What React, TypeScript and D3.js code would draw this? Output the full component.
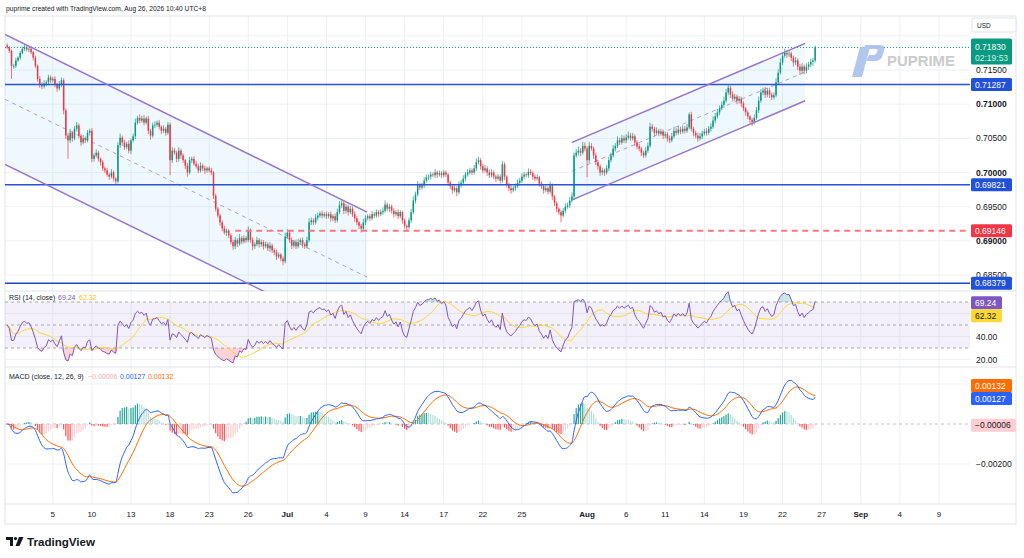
import React from "react";
import * as d3 from "d3";

// 4H candles, AUD/USD style quote, prices in pips (x 1e-4).
// One row per trading day, first row starts Mon Jun 1 (13:00), last row is Aug 26.
const closeRows: number[][] = [
  [7183, 7178, 7156],
  [7156, 7164, 7168, 7175, 7181, 7183],
  [7180, 7181, 7176, 7168, 7156, 7137],
  [7129, 7126, 7130, 7132, 7139, 7135],
  [7137, 7129, 7123, 7129, 7135, 7091],
  [7054, 7047, 7058, 7050, 7064, 7069],
  [7054, 7044, 7050, 7047, 7058, 7061],
  [7020, 7025, 7029, 7020, 7015, 7006],
  [7003, 6997, 6994, 7000, 6991, 6987],
  [7040, 7051, 7044, 7037, 7042, 7032],
  [7047, 7053, 7073, 7080, 7076, 7079],
  [7073, 7079, 7061, 7054, 7069, 7070],
  [7073, 7067, 7061, 7064, 7058, 7070],
  [7018, 7032, 7029, 7020, 7032, 7025],
  [7018, 7010, 7000, 7018, 7020, 7013],
  [7009, 7003, 7010, 7006, 7003, 7006],
  [7003, 7000, 6966, 6947, 6937, 6927],
  [6918, 6912, 6915, 6908, 6898, 6892],
  [6901, 6896, 6904, 6899, 6904, 6901],
  [6915, 6901, 6892, 6895, 6901, 6895],
  [6898, 6892, 6895, 6889, 6893, 6886],
  [6883, 6877, 6880, 6874, 6870, 6906],
  [6912, 6901, 6893, 6898, 6892, 6898],
  [6901, 6895, 6892, 6901, 6927, 6930],
  [6927, 6934, 6937, 6940, 6937, 6939],
  [6936, 6939, 6933, 6936, 6930, 6942],
  [6952, 6955, 6944, 6950, 6942, 6947],
  [6939, 6933, 6927, 6922, 6918, 6927],
  [6933, 6936, 6933, 6939, 6937, 6942],
  [6939, 6942, 6944, 6953, 6947, 6950],
  [6944, 6939, 6942, 6936, 6942, 6930],
  [6922, 6920, 6930, 6942, 6959, 6968],
  [6982, 6978, 6981, 6988, 6993, 6994],
  [6997, 6996, 7000, 6997, 6999, 6996],
  [7000, 6997, 6985, 6980, 6974, 6977],
  [6971, 6982, 6985, 6991, 6997, 7000],
  [7003, 7000, 7006, 7015, 7018, 7009],
  [7003, 7006, 7000, 6996, 7000, 6994],
  [6991, 6994, 6988, 7012, 6994, 6982],
  [6977, 6974, 6977, 6980, 6985, 6988],
  [6994, 6997, 6996, 7001, 6999, 6994],
  [6991, 6993, 6984, 6980, 6974, 6977],
  [6972, 6981, 6965, 6955, 6947, 6942],
  [6937, 6944, 6950, 6952, 6959, 6965],
  [7025, 7029, 7032, 7029, 7039, 7035],
  [7018, 7039, 7035, 7025, 7015, 7009],
  [7000, 7003, 7000, 7006, 7018, 7025],
  [7035, 7039, 7047, 7044, 7050, 7047],
  [7051, 7054, 7050, 7053, 7044, 7038],
  [7035, 7029, 7025, 7032, 7039, 7067],
  [7064, 7058, 7061, 7057, 7060, 7054],
  [7056, 7050, 7047, 7053, 7061, 7058],
  [7063, 7060, 7064, 7061, 7066, 7085],
  [7064, 7058, 7054, 7050, 7053, 7057],
  [7060, 7058, 7064, 7067, 7076, 7082],
  [7088, 7094, 7099, 7105, 7117, 7124],
  [7114, 7108, 7111, 7105, 7108, 7101],
  [7094, 7088, 7082, 7077, 7074, 7080],
  [7091, 7105, 7117, 7120, 7114, 7120],
  [7114, 7110, 7113, 7132, 7146, 7161],
  [7171, 7175, 7173, 7174, 7168, 7161],
  [7164, 7155, 7149, 7155, 7149, 7155],
  [7158, 7162, 7164, 7183],
];

// upper / lower wick length of each candle, pips
const wickUpRows: number[][] = [
  [3, 2, 2], [3, 4, 2, 3, 3, 4], [3, 2, 4, 2, 3, 2], [4, 3, 5, 3, 4, 3],
  [3, 4, 2, 5, 4, 3], [3, 4, 6, 3, 4, 5], [3, 2, 5, 3, 4, 3], [4, 3, 5, 3, 2, 3],
  [3, 4, 2, 5, 3, 2], [4, 6, 3, 4, 3, 5], [3, 4, 6, 3, 5, 4], [5, 3, 4, 3, 4, 5],
  [3, 4, 2, 5, 3, 4], [3, 5, 4, 3, 5, 3], [3, 2, 4, 5, 3, 4], [4, 3, 5, 3, 4, 3],
  [3, 4, 2, 3, 2, 3], [3, 4, 3, 2, 3, 4], [5, 3, 6, 3, 4, 3], [6, 3, 4, 3, 5, 3],
  [4, 3, 4, 3, 5, 3], [3, 4, 3, 2, 3, 6], [5, 3, 4, 3, 4, 5], [3, 4, 3, 5, 6, 4],
  [3, 5, 4, 3, 4, 3], [4, 3, 4, 3, 4, 5], [6, 4, 3, 4, 3, 4], [3, 4, 3, 2, 3, 5],
  [4, 3, 4, 5, 3, 4], [3, 4, 5, 6, 3, 4], [3, 4, 3, 4, 3, 2], [3, 2, 4, 5, 6, 4],
  [5, 3, 4, 5, 4, 3], [4, 3, 5, 3, 4, 3], [4, 3, 2, 3, 2, 4], [3, 5, 4, 5, 4, 5],
  [4, 3, 5, 6, 5, 3], [4, 5, 3, 4, 5, 3], [3, 4, 3, 5, 3, 2], [3, 4, 3, 4, 5, 4],
  [5, 4, 3, 5, 4, 3], [3, 4, 2, 3, 2, 4], [3, 6, 3, 2, 3, 2], [3, 4, 5, 4, 5, 6],
  [4, 5, 6, 4, 6, 5], [3, 6, 4, 3, 4, 3], [3, 4, 3, 5, 5, 4], [5, 4, 6, 4, 5, 4],
  [5, 6, 4, 5, 3, 3], [4, 3, 3, 5, 5, 6], [4, 3, 5, 3, 4, 3], [4, 3, 4, 5, 6, 4],
  [5, 4, 5, 4, 5, 3], [4, 3, 3, 4, 5, 4], [4, 5, 4, 5, 6, 5], [5, 4, 5, 6, 5, 4],
  [3, 5, 4, 3, 4, 3], [3, 2, 3, 2, 3, 5], [5, 6, 5, 4, 5, 4], [4, 3, 4, 6, 5, 6],
  [5, 6, 4, 5, 3, 3], [5, 3, 4, 5, 3, 5], [4, 5, 4, 3],
];
const wickDnRows: number[][] = [
  [2, 3, 19], [4, 3, 2, 3, 2, 3], [3, 4, 3, 4, 3, 4], [5, 4, 3, 4, 3, 4],
  [3, 4, 5, 3, 4, 6], [5, 27, 4, 5, 3, 4], [4, 5, 3, 4, 3, 4], [5, 4, 3, 4, 5, 4],
  [4, 3, 5, 3, 4, 5], [3, 4, 5, 4, 3, 4], [5, 3, 4, 3, 4, 3], [4, 3, 5, 6, 3, 4],
  [3, 4, 5, 3, 4, 3], [22, 4, 3, 5, 4, 5], [4, 5, 6, 3, 4, 3], [3, 4, 3, 4, 5, 3],
  [3, 4, 5, 4, 3, 5], [4, 3, 5, 4, 3, 5], [4, 5, 3, 4, 3, 4], [3, 4, 6, 4, 3, 5],
  [4, 5, 3, 4, 5, 4], [4, 5, 3, 4, 6, 3], [3, 4, 5, 3, 4, 3], [4, 5, 4, 3, 3, 4],
  [4, 3, 4, 3, 4, 3], [4, 3, 5, 4, 4, 3], [3, 4, 5, 4, 5, 3], [4, 5, 4, 5, 6, 3],
  [4, 3, 4, 3, 4, 3], [4, 3, 4, 3, 4, 5], [4, 5, 3, 4, 3, 5], [4, 6, 3, 4, 3, 4],
  [3, 4, 3, 4, 3, 4], [4, 3, 4, 5, 3, 4], [3, 4, 5, 4, 5, 3], [6, 3, 4, 3, 4, 3],
  [3, 4, 3, 4, 3, 5], [4, 3, 5, 4, 3, 4], [5, 3, 4, 3, 5, 4], [4, 5, 3, 4, 3, 4],
  [3, 4, 3, 4, 3, 5], [4, 3, 5, 4, 5, 3], [4, 3, 5, 4, 5, 4], [10, 3, 4, 3, 4, 3],
  [5, 3, 4, 5, 3, 4], [25, 4, 3, 5, 4, 5], [5, 4, 5, 3, 4, 3], [3, 4, 3, 4, 3, 4],
  [4, 3, 4, 3, 5, 4], [4, 5, 4, 3, 3, 3], [4, 5, 3, 4, 3, 5], [4, 5, 4, 3, 3, 4],
  [3, 4, 3, 4, 3, 3], [4, 5, 4, 5, 3, 4], [3, 4, 3, 4, 3, 4], [3, 4, 3, 4, 3, 4],
  [5, 4, 3, 5, 4, 5], [4, 5, 4, 5, 6, 4], [3, 4, 3, 4, 5, 4], [5, 4, 3, 3, 4, 3],
  [4, 3, 5, 4, 5, 6], [4, 5, 6, 4, 5, 4], [5, 4, 6, 3],
];
const firstOpen = 7186;

// time axis: trading day counted from Mon Jun 1
const timeTicks = [
  { label: "5", day: 4 }, { label: "10", day: 7 }, { label: "13", day: 10 },
  { label: "18", day: 13 }, { label: "23", day: 16 }, { label: "26", day: 19 },
  { label: "Jul", day: 22, bold: true }, { label: "4", day: 25 }, { label: "9", day: 28 },
  { label: "14", day: 31 }, { label: "17", day: 34 }, { label: "22", day: 37 },
  { label: "25", day: 40 }, { label: "Aug", day: 45, bold: true }, { label: "6", day: 48 },
  { label: "11", day: 51 }, { label: "14", day: 54 }, { label: "19", day: 57 },
  { label: "22", day: 60 }, { label: "27", day: 63 }, { label: "Sep", day: 66, bold: true },
  { label: "4", day: 69 }, { label: "9", day: 72 },
];

const priceGrid = [0.72, 0.715, 0.71, 0.705, 0.7, 0.695, 0.69, 0.685];
const priceLabels = [
  { v: 0.715, t: "0.71500" }, { v: 0.71, t: "0.71000", bold: true },
  { v: 0.705, t: "0.70500" }, { v: 0.7, t: "0.70000", bold: true },
  { v: 0.695, t: "0.69500" }, { v: 0.69, t: "0.69000", bold: true },
  { v: 0.685, t: "0.68500" },
];

const levels = [
  { price: 0.71287, text: "0.71287", color: "#2a52d8", tag: "#2150d9", from: -1, dash: false },
  { price: 0.69821, text: "0.69821", color: "#2a52d8", tag: "#2150d9", from: -1, dash: false },
  { price: 0.69146, text: "0.69146", color: "#f7787d", tag: "#f23645", from: 105, dash: true },
  { price: 0.68379, text: "0.68379", color: "#1f44c2", tag: "#2150d9", from: -1, dash: false },
];

// parallel channels: two anchors on the top edge, plus the price offset of the bottom edge
const channels = [
  { i1: -1, p1: 0.7202, i2: 165.7, p2: 0.6942, offset: -0.019 },
  { i1: 260.1, p1: 0.7044, i2: 367.4, p2: 0.7189, offset: -0.0084 },
];

const lastPrice = 0.7183;
const countdown = "02:19:53";
const rsiLegend = { rsi: 69.24, ma: 62.32 };
const macdLegend = { hist: -0.00006, macd: 0.00127, signal: 0.00132 };
const rsiGrid = [60, 40, 20];
const rsiLabels = [40, 20];
const macdGrid = [0.002, -0.002];

const FONT = "'Liberation Sans', Arial, sans-serif";
const PL = 5, PR = 970;
const MAIN = { top: 16, bottom: 291 };
const RSI = { top: 291, bottom: 367 };
const MACD = { top: 367, bottom: 504 };
const AXIS_BOTTOM = 524;

const closes = closeRows.flat().map((p) => p / 10000);
const upW = wickUpRows.flat();
const dnW = wickDnRows.flat();
const candles = closes.map((c, i) => {
  const o = i === 0 ? firstOpen / 10000 : closes[i - 1];
  return {
    i, o, c,
    h: Math.max(o, c) + (upW[i] ?? 3) / 10000,
    l: Math.min(o, c) - (dnW[i] ?? 3) / 10000,
  };
});

function rsiOf(c: number[], n: number) {
  // Wilder smoothing, started from a neutral state
  let ag = 0.0003, al = 0.0003;
  const out: number[] = [50];
  for (let i = 1; i < c.length; i++) {
    const d = c[i] - c[i - 1];
    ag = (ag * (n - 1) + Math.max(d, 0)) / n;
    al = (al * (n - 1) + Math.max(-d, 0)) / n;
    out.push(al === 0 ? 100 : 100 - 100 / (1 + ag / al));
  }
  return out;
}
function sma(v: number[], n: number) {
  return v.map((_, i) => d3.mean(v.slice(Math.max(0, i - n + 1), i + 1)) as number);
}
function ema(v: number[], n: number) {
  const k = 2 / (n + 1);
  const out: number[] = [];
  v.forEach((x, i) => out.push(i === 0 ? x : x * k + out[i - 1] * (1 - k)));
  return out;
}

const rsi = rsiOf(closes, 14);
const rsiMa = sma(rsi, 14);
const ema12 = ema(closes, 12);
const ema26 = ema(closes, 26);
const macd = ema12.map((v, i) => v - ema26[i]);
const signal = ema(macd, 9);
const hist = macd.map((v, i) => v - signal[i]);

function Tag({ y, text, bg, fg = "#fff", w = 41 }: { y: number; text: string; bg: string; fg?: string; w?: number }) {
  return (
    <g>
      <rect x={971} y={y - 6.5} width={w} height={13} rx={1.5} fill={bg} />
      <text x={975} y={y + 3} fontSize={8.5} fill={fg}>{text}</text>
    </g>
  );
}

export default function App() {
  const x = d3.scaleLinear().domain([-1, 443.3]).range([PL, PR]);
  const y = d3.scaleLinear().domain([0.685, 0.715]).range([275, 70]);
  const yR = d3.scaleLinear().domain([30, 70]).range([348, 302]);
  const yM = d3.scaleLinear().domain([-0.002, 0]).range([464, 424]);
  const dayX = (d: number) => x(d * 6 - 3);

  const rsiLine = d3.line<number>().x((_, i) => x(i)).y((v) => yR(v));
  const osArea = d3.area<number>().x((_, i) => x(i)).y0(yR(30)).y1((v) => yR(Math.min(v, 30)));
  const obArea = d3.area<number>().x((_, i) => x(i)).y0(yR(70)).y1((v) => yR(Math.max(v, 70)));
  const macdLine = d3.line<number>().x((_, i) => x(i)).y((v) => yM(v)).curve(d3.curveMonotoneX);

  const grid = "#eef0f4";
  const rsiTagY = yR(rsiLegend.rsi);
  const maTagY = Math.max(yR(rsiLegend.ma), rsiTagY + 13);
  const macdTagY = yM(macdLegend.macd);
  const sigTagY = macdTagY - 13;

  return (
    <svg width={1024} height={558} style={{ position: "absolute", left: 0, top: 0 }} fontFamily={FONT}>
      <defs>
        <clipPath id="cMain"><rect x={PL} y={MAIN.top} width={PR - PL} height={MAIN.bottom - MAIN.top} /></clipPath>
        <clipPath id="cRsi"><rect x={PL} y={RSI.top} width={PR - PL} height={RSI.bottom - RSI.top} /></clipPath>
        <clipPath id="cMacd"><rect x={PL} y={MACD.top} width={PR - PL} height={MACD.bottom - MACD.top} /></clipPath>
      </defs>
      <rect width={1024} height={558} fill="#fff" />

      <text x={6} y={11} fontSize={8} fill="#131722" textLength={200} lengthAdjust="spacingAndGlyphs">
        puprime created with TradingView.com, Aug 26, 2026 10:40 UTC+8
      </text>

      {/* grid */}
      {timeTicks.map((t) => (
        <line key={"vg" + t.day} x1={dayX(t.day)} x2={dayX(t.day)} y1={MAIN.top} y2={MACD.bottom} stroke={grid} />
      ))}
      {priceGrid.map((p) => (
        <line key={"hg" + p} x1={PL} x2={PR} y1={y(p)} y2={y(p)} stroke={grid} />
      ))}
      {rsiGrid.map((v) => (
        <line key={"rg" + v} x1={PL} x2={PR} y1={yR(v)} y2={yR(v)} stroke={grid} />
      ))}
      {macdGrid.map((v) => (
        <line key={"mg" + v} x1={PL} x2={PR} y1={yM(v)} y2={yM(v)} stroke={grid} />
      ))}

      {/* frame and pane separators */}
      <rect x={PL} y={MAIN.top} width={1016 - PL} height={AXIS_BOTTOM - MAIN.top} fill="none" stroke="#e0e3eb" />
      {[MAIN.bottom, RSI.bottom, MACD.bottom].map((v) => (
        <line key={"sep" + v} x1={PL} x2={1016} y1={v} y2={v} stroke="#e0e3eb" />
      ))}

      {/* main pane */}
      <g clipPath="url(#cMain)">
        {channels.map((ch, k) => {
          const u1 = [x(ch.i1), y(ch.p1)], u2 = [x(ch.i2), y(ch.p2)];
          const l1 = [x(ch.i1), y(ch.p1 + ch.offset)], l2 = [x(ch.i2), y(ch.p2 + ch.offset)];
          const m1 = [x(ch.i1), y(ch.p1 + ch.offset / 2)], m2 = [x(ch.i2), y(ch.p2 + ch.offset / 2)];
          return (
            <g key={"ch" + k}>
              <polygon points={[u1, u2, l2, l1].map((p) => p.join(",")).join(" ")} fill="rgba(33,170,230,0.07)" />
              <line x1={m1[0]} y1={m1[1]} x2={m2[0]} y2={m2[1]} stroke="#b39ddb" strokeWidth={1} strokeDasharray="4 4" />
            </g>
          );
        })}
        <line x1={PL} x2={PR} y1={y(lastPrice)} y2={y(lastPrice)} stroke="#089981" strokeWidth={1} strokeDasharray="1 2" />
        {candles.map((d) => {
          const col = d.c >= d.o ? "#089981" : "#f23645";
          const top = y(Math.max(d.o, d.c)), bot = y(Math.min(d.o, d.c));
          return (
            <g key={"k" + d.i}>
              <line x1={x(d.i)} x2={x(d.i)} y1={y(d.h)} y2={y(d.l)} stroke={col} strokeWidth={0.7} />
              <rect x={x(d.i) - 0.75} width={1.5} y={top} height={Math.max(bot - top, 0.7)} fill={col} />
            </g>
          );
        })}
        {levels.map((lv) => (
          <line key={"lv" + lv.price} x1={x(lv.from)} x2={PR} y1={y(lv.price)} y2={y(lv.price)}
            stroke={lv.color} strokeWidth={lv.dash ? 2 : 1.6} strokeDasharray={lv.dash ? "6 4.5" : undefined} />
        ))}
        {channels.map((ch, k) => (
          <g key={"chl" + k} stroke="#9575cd" strokeWidth={1.5}>
            <line x1={x(ch.i1)} y1={y(ch.p1)} x2={x(ch.i2)} y2={y(ch.p2)} />
            <line x1={x(ch.i1)} y1={y(ch.p1 + ch.offset)} x2={x(ch.i2)} y2={y(ch.p2 + ch.offset)} />
          </g>
        ))}
      </g>

      {/* watermark */}
      <g opacity={0.9}>
        <polygon points="852,77 862,77 870,47 860,47" fill="#a9c2ec" />
        <path d="M865,45 L880,45 Q886,45 884,51 L882,57 Q880,61 875,61 L866,61 L869,55 L874,55 Q876,55 877,52 L877.5,51 Q878,49 876,49 L864,49 Z" fill="#a9c2ec" />
        <text x={887} y={66} fontSize={14} fontWeight={700} fill="#c6c6c6" textLength={68} lengthAdjust="spacingAndGlyphs">PUPRIME</text>
      </g>

      {/* RSI pane */}
      <g clipPath="url(#cRsi)">
        <rect x={PL} y={yR(70)} width={PR - PL} height={yR(30) - yR(70)} fill="rgba(126,87,194,0.09)" />
        {[70, 50, 30].map((v) => (
          <line key={"rl" + v} x1={PL} x2={PR} y1={yR(v)} y2={yR(v)} stroke="#9598a1" strokeDasharray="3 3" strokeWidth={0.8} />
        ))}
        <path d={osArea(rsi) ?? ""} fill="rgba(242,54,69,0.22)" />
        <path d={obArea(rsi) ?? ""} fill="rgba(8,153,129,0.22)" />
        <path d={rsiLine(rsiMa) ?? ""} fill="none" stroke="#fdd835" strokeWidth={1} />
        <path d={rsiLine(rsi) ?? ""} fill="none" stroke="#7e57c2" strokeWidth={1} />
      </g>
      <g fontSize={7}>
        <text x={9} y={299.5} fill="#131722">RSI (14, close)</text>
        <text x={58} y={299.5} fill="#7e57c2">{rsiLegend.rsi.toFixed(2)}</text>
        <text x={79} y={299.5} fill="#f2c811">{rsiLegend.ma.toFixed(2)}</text>
      </g>

      {/* MACD pane */}
      <g clipPath="url(#cMacd)">
        <line x1={PL} x2={PR} y1={yM(0)} y2={yM(0)} stroke="#b2b5be" strokeDasharray="3 3" strokeWidth={0.8} />
        {hist.map((h, i) => {
          const prev = i > 0 ? hist[i - 1] : 0;
          const col = h >= 0 ? (h > prev ? "#26a69a" : "#b2dfdb") : h < prev ? "#ff5252" : "#ffcdd2";
          const y0 = yM(0), y1 = yM(h);
          return <rect key={"h" + i} x={x(i) - 0.6} width={1.2} y={Math.min(y0, y1)} height={Math.abs(y1 - y0)} fill={col} />;
        })}
        <path d={macdLine(signal) ?? ""} fill="none" stroke="#ff6d00" strokeWidth={1} />
        <path d={macdLine(macd) ?? ""} fill="none" stroke="#2962ff" strokeWidth={1} />
      </g>
      <g fontSize={7}>
        <text x={9} y={379} fill="#131722">MACD (close, 12, 26, 9)</text>
        <text x={88} y={379} fill="#f7a9b0">{"−" + Math.abs(macdLegend.hist).toFixed(5)}</text>
        <text x={120} y={379} fill="#2962ff">{macdLegend.macd.toFixed(5)}</text>
        <text x={148} y={379} fill="#ff6d00">{macdLegend.signal.toFixed(5)}</text>
      </g>

      {/* price axis */}
      <rect x={972} y={18} width={44} height={14} rx={2} fill="#fff" stroke="#e0e3eb" />
      <text x={977} y={27.5} fontSize={6.5} fill="#131722">USD</text>
      {priceLabels.map((p) => (
        <text key={"pl" + p.v} x={976} y={y(p.v) + 3} fontSize={8.5} fontWeight={p.bold ? 700 : 400} fill="#131722">{p.t}</text>
      ))}
      {levels.map((lv) => (
        <Tag key={"tg" + lv.price} y={y(lv.price)} text={lv.text} bg={lv.tag} />
      ))}
      <g>
        <rect x={971} y={y(lastPrice) - 9} width={41} height={26} rx={1.5} fill="#089981" />
        <text x={975} y={y(lastPrice) + 3} fontSize={8.5} fill="#fff">{lastPrice.toFixed(5)}</text>
        <text x={975} y={y(lastPrice) + 14} fontSize={8.5} fill="#d7f0eb">{countdown}</text>
      </g>
      {rsiLabels.map((v) => (
        <text key={"rlb" + v} x={976} y={yR(v) + 3} fontSize={8.5} fill="#131722">{v.toFixed(2)}</text>
      ))}
      <Tag y={rsiTagY} text={rsiLegend.rsi.toFixed(2)} bg="#7e57c2" w={31} />
      <Tag y={maTagY} text={rsiLegend.ma.toFixed(2)} bg="#fdd835" fg="#131722" w={31} />
      <text x={976} y={yM(-0.002) + 3} fontSize={8.5} fill="#131722">−0.00200</text>
      <Tag y={sigTagY} text={macdLegend.signal.toFixed(5)} bg="#ff6d00" />
      <Tag y={macdTagY} text={macdLegend.macd.toFixed(5)} bg="#2962ff" />
      <Tag y={yM(macdLegend.hist)} text={"−" + Math.abs(macdLegend.hist).toFixed(5)} bg="#ffcdd2" fg="#131722" w={45} />

      {/* time axis */}
      {timeTicks.map((t) => (
        <text key={"tl" + t.day} x={dayX(t.day)} y={517} fontSize={8} textAnchor="middle"
          fontWeight={t.bold ? 700 : 400} fill="#131722">{t.label}</text>
      ))}

      {/* TradingView mark */}
      <g fill="#131722">
        <path d="M6,537 L13,537 L13,546 L10,546 L10,540 L6,540 Z" />
        <circle cx={15.5} cy={538.6} r={1.6} />
        <path d="M19,537 L23.5,537 L19.5,546 L15.5,546 Z" />
      </g>
      <text x={27} y={546} fontSize={11.5} fontWeight={700} fill="#131722" textLength={68} lengthAdjust="spacingAndGlyphs">TradingView</text>
    </svg>
  );
}
